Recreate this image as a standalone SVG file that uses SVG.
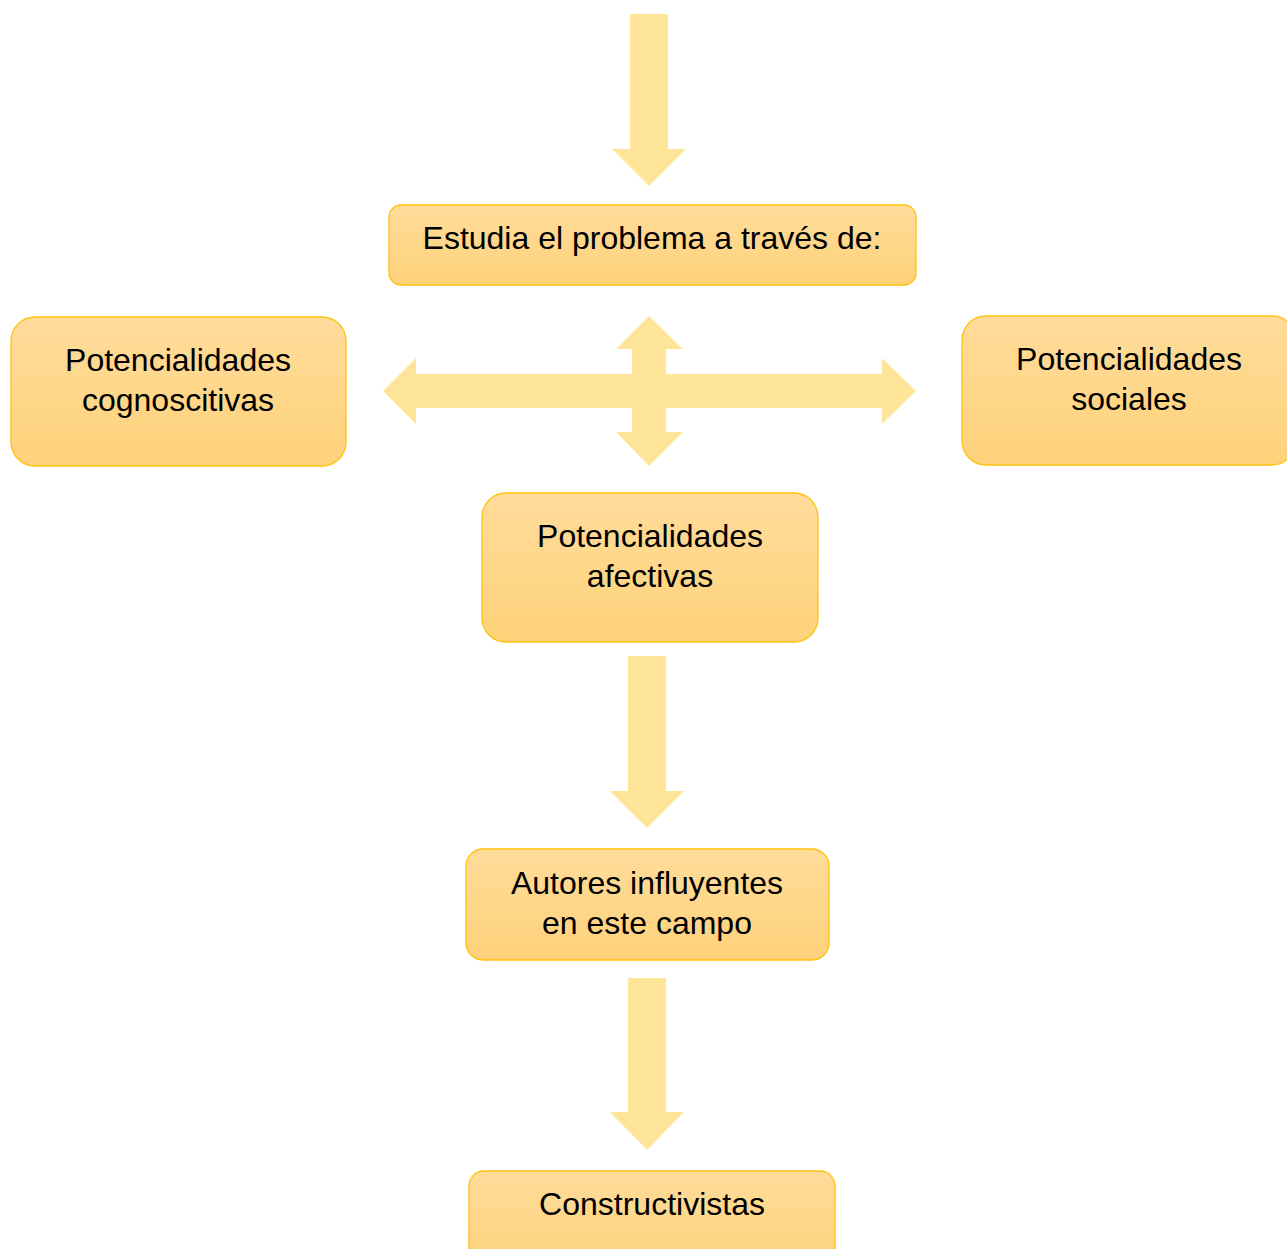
<svg xmlns="http://www.w3.org/2000/svg" width="1287" height="1249" viewBox="0 0 1287 1249">
<defs>
<linearGradient id="g" x1="0" y1="0" x2="0" y2="1">
<stop offset="0" stop-color="#FFDC9B"/>
<stop offset="1" stop-color="#FED27A"/>
</linearGradient>
<style>
.box{fill:url(#g);stroke:#FFC20E;stroke-width:1.3}
.t{font-family:"Liberation Sans",Arial,sans-serif;font-size:32px;fill:#000;text-anchor:middle}
.ar{fill:#FFE599}
</style>
</defs>
<rect width="1287" height="1249" fill="#fff"/>
<g id="connectors">
<polygon class="ar" points="630,14 668,14 668,149 686,149 649,186 612,149 630,149"/>
<polygon class="ar" points="383,391 416,358 416,374 632,374 632,349 616,349 649,316 683,349 666,349 666,374 882,374 882,358 916,391 882,424 882,408 666,408 666,432 683,432 649,466 616,432 632,432 632,408 416,408 416,424"/>
<polygon class="ar" points="628,656 666,656 666,791 684,791 647,828 610,791 628,791"/>
<polygon class="ar" points="628,978 666,978 666,1112 684,1112 647,1150 610,1112 628,1112"/>
</g>
<g id="n1"><rect class="box" x="389" y="205" width="527" height="80" rx="12"/><text class="t" x="652" y="249">Estudia el problema a través de:</text></g>
<g id="n2"><rect class="box" x="11" y="317" width="335" height="149" rx="24"/><text class="t" x="178" y="371">Potencialidades</text><text class="t" x="178" y="411">cognoscitivas</text></g>
<g id="n3"><rect class="box" x="962" y="316" width="334" height="149" rx="24"/><text class="t" x="1129" y="370">Potencialidades</text><text class="t" x="1129" y="410">sociales</text></g>
<g id="n4"><rect class="box" x="482" y="493" width="336" height="149" rx="24"/><text class="t" x="650" y="547">Potencialidades</text><text class="t" x="650" y="587">afectivas</text></g>
<g id="n5"><rect class="box" x="466" y="849" width="363" height="111" rx="17"/><text class="t" x="647" y="894">Autores influyentes</text><text class="t" x="647" y="934">en este campo</text></g>
<g id="n6"><rect class="box" x="469" y="1171" width="366" height="100" rx="15"/><text class="t" x="652" y="1215">Constructivistas</text></g>
</svg>
